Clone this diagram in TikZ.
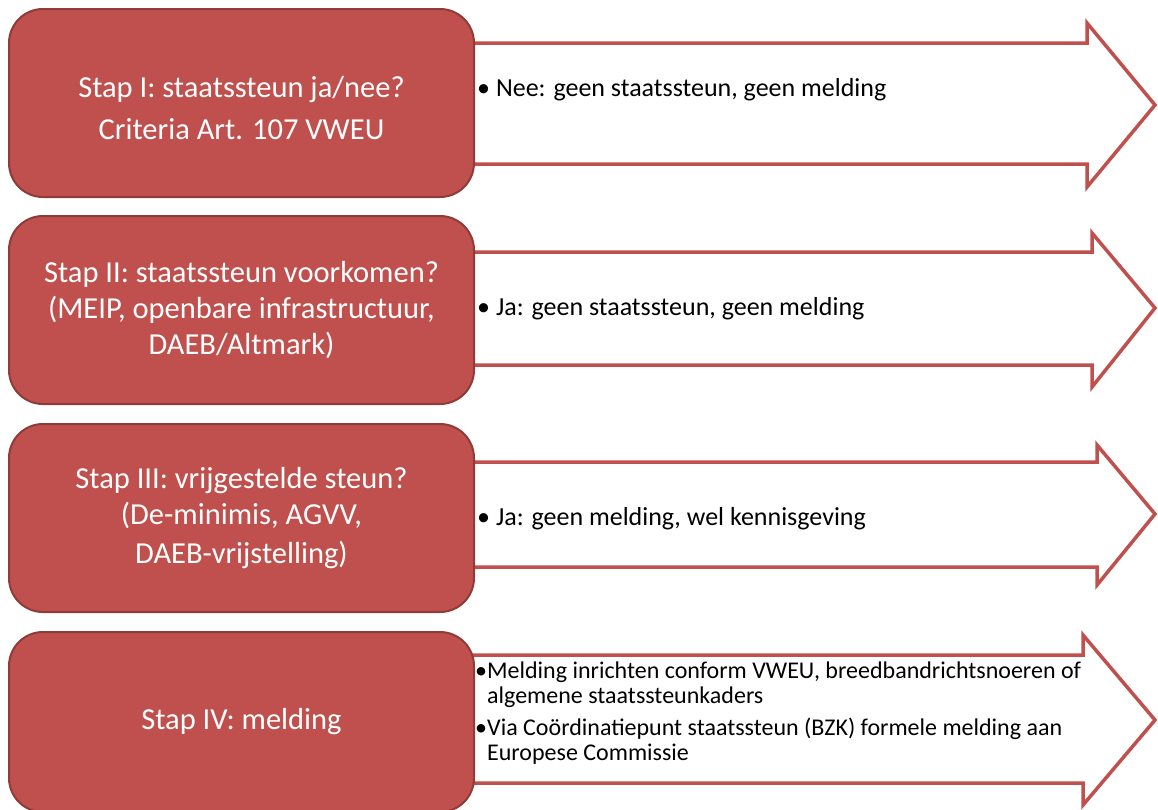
\documentclass[tikz,border=0pt]{standalone}
\usepackage{fontspec}
\setmainfont{Carlito}
\usetikzlibrary{positioning}

\definecolor{stapred}{HTML}{C0504D}
\definecolor{stapedge}{HTML}{8E3B39}

\begin{document}
\begin{tikzpicture}[x=1pt,y=-1pt,
    stapbox/.style={draw=stapedge,line width=2pt,fill=stapred,rounded corners=34pt,
      minimum width=465pt,minimum height=188pt,text=white,align=center,
      font=\fontsize{30.5}{36}\selectfont},
    stappijl/.style={draw=stapred,line width=3.5pt,fill=white,line join=miter},
    uitkomst/.style={anchor=base west,align=left,inner sep=0pt,
      font=\fontsize{26}{25}\selectfont}]

  \useasboundingbox (0,0) rectangle (1158,809);

  % pijlen, half achter de stappen
  \draw[stappijl] (440,43) -- (1087,43) -- (1087,23) -- (1155,105)
    -- (1087,187) -- (1087,164) -- (440,164) -- cycle;
  \draw[stappijl] (440,252) -- (1092,252) -- (1092,233) -- (1155,308)
    -- (1092,387) -- (1092,365) -- (440,365) -- cycle;
  \draw[stappijl] (440,462) -- (1097,462) -- (1097,445) -- (1155,514)
    -- (1097,585) -- (1097,567) -- (440,567) -- cycle;
  \draw[stappijl] (440,655) -- (1083,655) -- (1083,635) -- (1155,720)
    -- (1083,805) -- (1083,783) -- (440,783) -- cycle;

  % stappen
  \node[stapbox] (stap1) at (241.5,103) {\rule{0pt}{32pt}Stap I: staatssteun ja/nee?\\[6pt]
    Criteria Art. 107 VWEU};
  \node[stapbox] (stap2) [below=17pt of stap1] {Stap II: staatssteun voorkomen?\\
    (MEIP, openbare infrastructuur,\\ DAEB/Altmark)};
  \node[stapbox] (stap3) [below=18pt of stap2] {Stap III: vrijgestelde steun?\\
    (De-minimis, AGVV,\\[3pt] DAEB-vrijstelling)};
  \node[stapbox, minimum height=180pt] (stap4) [below=18pt of stap3] {Stap IV: melding};

  % uitkomsten
  \node[uitkomst] (uit1) at (477,96) {\textbullet\ Nee: geen staatssteun, geen melding};
  \node[uitkomst] (uit2) at (477,315) {\textbullet\ Ja: geen staatssteun, geen melding};
  \node[uitkomst] (uit3) at (477,525) {\textbullet\ Ja: geen melding, wel kennisgeving};
  \node[uitkomst, anchor=west, font=\fontsize{24}{25}\selectfont] (uit4) at (475,713)
    {\textbullet Melding inrichten conform VWEU, breedbandrichtsnoeren of\\
    \hphantom{\textbullet}algemene staatssteunkaders\\[7pt]
    \textbullet Via Coördinatiepunt staatssteun (BZK) formele melding aan\\
    \hphantom{\textbullet}Europese Commissie};
\end{tikzpicture}
\end{document}
